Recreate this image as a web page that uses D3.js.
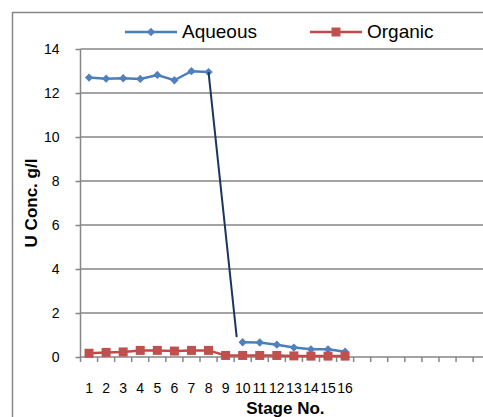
<!DOCTYPE html>
<html>
<head>
<meta charset="utf-8">
<script src="https://cdn.jsdelivr.net/npm/d3@7"></script>
<style>
body { margin: 0; background: #fff; }
svg { display: block; font-family: "Liberation Sans", Arial, sans-serif; }
</style>
</head>
<body>
<svg width="483" height="417"></svg>
<script>
// stage numbers shown on the axis (the axis itself runs on to 24 empty slots)
var stageLabels = ["1","2","3","4","5","6","7","8","9","10","11","12","13","14","15","16"];
var slotCount = 24;
var aqueous = [12.70, 12.65, 12.67, 12.64, 12.82, 12.58, 12.99, 12.95, null, 0.67, 0.66, 0.56, 0.43, 0.35, 0.35, 0.24];
var organic = [0.17, 0.21, 0.23, 0.30, 0.30, 0.27, 0.30, 0.30, 0.07, 0.07, 0.07, 0.07, 0.05, 0.04, 0.04, 0.04];
// hand drawn drop line from stage 8 down towards stage 10
var dropStages = [8, 9.65];
var dropValues = [12.95, 0.9];
var yTicks = [0, 2, 4, 6, 8, 10, 12, 14];

var svg = d3.select("svg");
var gray = "#868686";
var blue = "#4A7EBB", blueMark = "#4F81BD";
var red = "#BE4B48", redMark = "#C0504D";

var x = d3.scaleLinear().domain([0.5, slotCount + 0.5]).range([80.5, 490.2]);
var y = d3.scaleLinear().domain([0, 14]).range([357, 49]);

// chart border (right and bottom are cut off)
svg.append("rect").attr("x", 12.5).attr("y", 12.5).attr("width", 520).attr("height", 430)
  .attr("fill", "none").attr("stroke", gray).attr("stroke-width", 1.5);

// gridlines
svg.append("g").selectAll("line").data(yTicks.filter(d => d > 0)).enter().append("line")
  .attr("x1", x(0.5)).attr("x2", x(slotCount + 0.5))
  .attr("y1", d => y(d)).attr("y2", d => y(d))
  .attr("stroke", gray).attr("stroke-width", 1.5);

// y axis
var yAxisG = svg.append("g").attr("transform", `translate(${x(0.5)},0)`)
  .call(d3.axisLeft(y).tickValues(yTicks).tickSize(5).tickPadding(16));
yAxisG.selectAll("path, line").attr("stroke", gray).attr("stroke-width", 1.5);
yAxisG.select(".domain").attr("d", `M0,${y(0)}V${y(14)}`);
yAxisG.selectAll("text").attr("font-size", 14).attr("fill", "#000").attr("font-family", null);

// x axis: boundary ticks + labels at stage centres
var xAxisG = svg.append("g").attr("transform", `translate(0,${y(0)})`);
xAxisG.append("line").attr("x1", x(0.5)).attr("x2", x(slotCount + 0.5))
  .attr("stroke", gray).attr("stroke-width", 1.5);
xAxisG.selectAll(".btick").data(d3.range(0.5, slotCount + 1, 1)).enter().append("line")
  .attr("class", "btick").attr("x1", d => x(d)).attr("x2", d => x(d)).attr("y1", 0).attr("y2", 5)
  .attr("stroke", gray).attr("stroke-width", 1.5);
xAxisG.selectAll(".xlab").data(stageLabels).enter().append("text")
  .attr("class", "xlab").attr("x", (d, i) => x(i + 1)).attr("y", 36)
  .attr("text-anchor", "middle").attr("font-size", 14).text(d => d);

// axis titles
svg.append("text").attr("x", x((slotCount + 1) / 2)).attr("y", 414).attr("text-anchor", "middle")
  .attr("font-size", 17).attr("font-weight", "bold").text("Stage No.");
svg.append("text").attr("transform", `translate(37,${(y(0) + y(14)) / 2}) rotate(-90)`)
  .attr("text-anchor", "middle").attr("font-size", 17).attr("font-weight", "bold").text("U Conc. g/l");

// series
var line = d3.line().defined(d => d != null).x((d, i) => x(i + 1)).y(d => y(d));
svg.append("path").datum(organic).attr("d", line).attr("fill", "none").attr("stroke", red).attr("stroke-width", 2.5);
svg.append("path").datum(aqueous).attr("d", line).attr("fill", "none").attr("stroke", blue).attr("stroke-width", 2.5);

var diamond = d3.symbol().type(d3.symbolDiamond2).size(44);
svg.append("g").selectAll("path").data(aqueous.map((v, i) => [i + 1, v]).filter(d => d[1] != null))
  .enter().append("path").attr("d", diamond)
  .attr("transform", d => `translate(${x(d[0])},${y(d[1])})`).attr("fill", blueMark);
svg.append("g").selectAll("rect").data(organic).enter().append("rect")
  .attr("x", (d, i) => x(i + 1) - 4.5).attr("y", d => y(d) - 4.5)
  .attr("width", 9).attr("height", 9).attr("fill", redMark);

// drop line
svg.append("path").datum(dropStages.map((s, i) => [s, dropValues[i]]))
  .attr("d", d3.line().x(d => x(d[0])).y(d => y(d[1])))
  .attr("fill", "none").attr("stroke", "#17375E").attr("stroke-width", 2);

// legend
var legend = [
  { name: "Aqueous", color: blue, mark: blueMark, x0: 125 },
  { name: "Organic", color: red, mark: redMark, x0: 310 }
];
var lg = svg.append("g").selectAll("g").data(legend).enter().append("g")
  .attr("transform", d => `translate(${d.x0},32)`);
lg.append("line").attr("x1", 0).attr("x2", 52).attr("stroke", d => d.color).attr("stroke-width", 2.5);
lg.filter(d => d.name == "Aqueous").append("path").attr("d", diamond).attr("transform", "translate(26,0)").attr("fill", d => d.mark);
lg.filter(d => d.name == "Organic").append("rect").attr("x", 21.5).attr("y", -4.5).attr("width", 9).attr("height", 9).attr("fill", d => d.mark);
lg.append("text").attr("x", 57).attr("y", 6).attr("font-size", 19).text(d => d.name);
</script>
</body>
</html>
